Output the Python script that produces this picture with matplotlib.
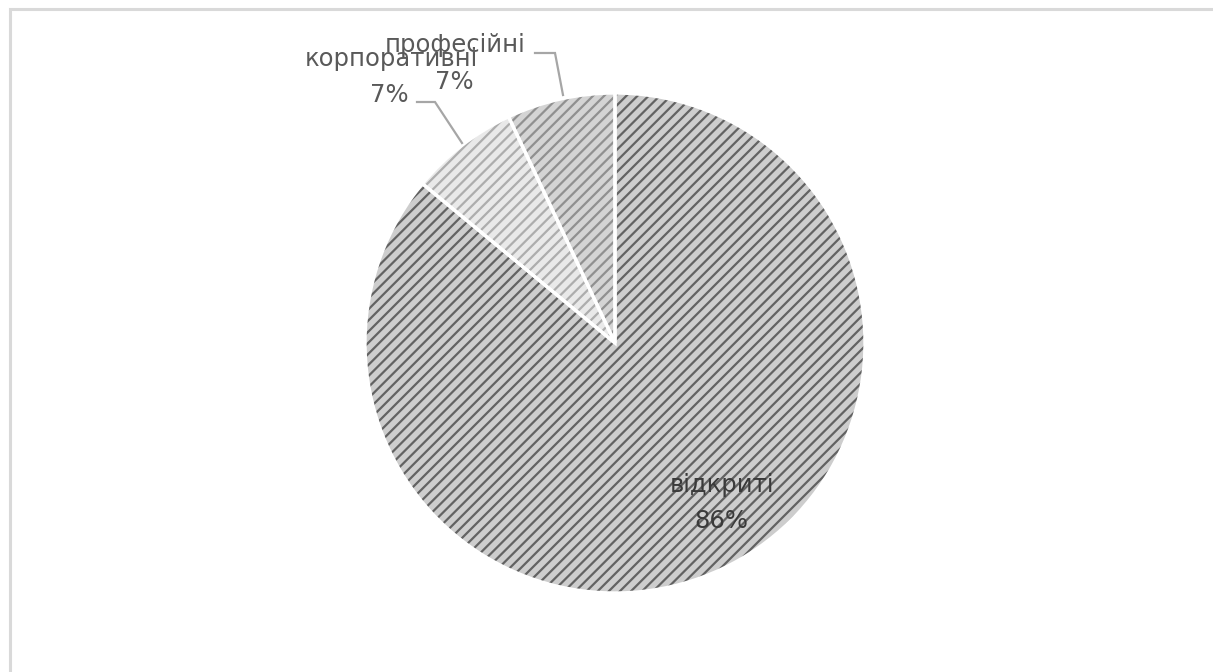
import matplotlib
matplotlib.use("Agg")
import matplotlib.pyplot as plt
from matplotlib.patches import Wedge, Rectangle

# ---- data ----
categories = ["відкриті", "корпоративні", "професійні"]
values = [86, 7, 7]
pct_labels = ["86%", "7%", "7%"]

# ---- styles ----
face_colors = ["#cdcdcd", "#e9e9e9", "#d4d4d4"]
hatch_colors = ["#626262", "#adadad", "#909090"]

plt.rcParams['font.family'] = ['DejaVu Sans']
plt.rcParams['hatch.linewidth'] = 1.6

W, H = 1213, 672
fig = plt.figure(figsize=(W / 100, H / 100), dpi=100)
fig.patch.set_facecolor("white")

# chart-area border (only top and left visible in the crop)
fig.patches.append(Rectangle((9.5 / W, -0.1), 1.2, (H - 8.5) / H + 0.1,
                             transform=fig.transFigure, fill=False,
                             edgecolor="#d9d9d9", linewidth=2.2))

cx, cy, R = 615, 343, 250
ax = fig.add_axes([(cx - R) / W, (H - cy - R) / H, 2 * R / W, 2 * R / H])

wedges, _ = ax.pie(values, startangle=90, counterclock=False, radius=1,
                   colors=face_colors,
                   wedgeprops=dict(edgecolor="white", linewidth=0))
ax.set_xlim(-1, 1)
ax.set_ylim(-1, 1)
ax.set_aspect("equal")
ax.axis("off")

# hatch overlays + white separators
for w, hc in zip(wedges, hatch_colors):
    ov = Wedge(w.center, w.r, w.theta1, w.theta2, facecolor="none",
               edgecolor=hc, hatch="///", linewidth=0)
    ax.add_patch(ov)
for w in wedges:
    ed = Wedge(w.center, w.r, w.theta1, w.theta2, facecolor="none",
               edgecolor="white", linewidth=2.4)
    ax.add_patch(ed)

def d(px, py):
    return ((px - cx) / R, (cy - py) / R)

fs = 17.5
# inside label (відкриті)
ax.text(*d(722, 485), categories[0], ha="center", va="center",
        fontsize=fs, color="#3a3a3a")
ax.text(*d(721, 521), pct_labels[0], ha="center", va="center",
        fontsize=fs, color="#3a3a3a")

# leader lines
lc = "#a6a6a6"
pts = [d(417, 102), d(435, 102), d(462, 143)]
ax.plot([p[0] for p in pts], [p[1] for p in pts], color=lc, lw=1.6,
        clip_on=False, solid_joinstyle="miter")
pts = [d(535, 53), d(555, 53), d(563, 95)]
ax.plot([p[0] for p in pts], [p[1] for p in pts], color=lc, lw=1.6,
        clip_on=False, solid_joinstyle="miter")

# outside labels
oc = "#595959"
ax.text(*d(391, 59), categories[1], ha="center", va="center",
        fontsize=fs, color=oc)
ax.text(*d(389, 95), pct_labels[1], ha="center", va="center",
        fontsize=fs, color=oc)
ax.text(*d(455, 45), categories[2], ha="center", va="center",
        fontsize=fs, color=oc)
ax.text(*d(454, 82), pct_labels[2], ha="center", va="center",
        fontsize=fs, color=oc)

fig.savefig("out.png", dpi=100, facecolor="white")
